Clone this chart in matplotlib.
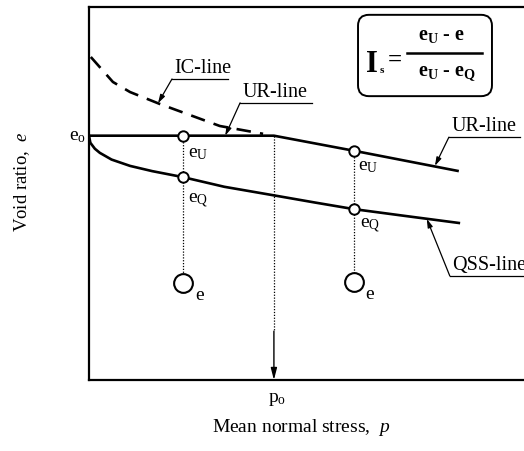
import matplotlib.pyplot as plt
from matplotlib.patches import FancyBboxPatch

plt.rcParams['font.family'] = ['Liberation Serif', 'DejaVu Serif']
plt.rcParams['mathtext.fontset'] = 'custom'
plt.rcParams['mathtext.rm'] = 'Liberation Serif'
plt.rcParams['mathtext.it'] = 'Liberation Serif:italic'
plt.rcParams['mathtext.bf'] = 'Liberation Serif:bold'

# schematic values (arbitrary units): p on x, void ratio e on y
e_o = 0.655
p_o = 4.1

ur_p = [0.0, 4.1, 5.9, 8.2]
ur_e = [0.655, 0.655, 0.614, 0.56]

qss_p = [0.0, 0.03, 0.13, 0.24, 0.5, 0.91, 1.4, 2.08, 3.0, 4.1, 5.0, 5.88, 7.0, 8.2]
qss_e = [0.655, 0.636, 0.620, 0.609, 0.591, 0.574, 0.560, 0.544, 0.518, 0.495, 0.476, 0.458, 0.440, 0.421]

ic_p = [0.04, 0.53, 0.91, 1.57, 2.9, 3.86]
ic_e = [0.866, 0.799, 0.772, 0.740, 0.681, 0.66]

# state points: p, e_U, e_Q, e
state_p = [2.08, 5.88]
state_eU = [0.655, 0.614]
state_eQ = [0.544, 0.458]
state_e = [0.26, 0.263]

W, H = 524, 452
fig = plt.figure(figsize=(W / 100, H / 100), dpi=100)
ax = fig.add_axes([89 / W, 71 / H, 451 / W, 373 / H])
ax.set_xlim(0, 10)
ax.set_ylim(0, 1)
ax.set_xticks([])
ax.set_yticks([])
for s in ax.spines.values():
    s.set_linewidth(1.6)

lw = 1.9
ax.plot(ur_p, ur_e, color='black', lw=lw, solid_capstyle='butt')
ax.plot(qss_p, qss_e, color='black', lw=lw)
ax.plot(ic_p, ic_e, color='black', lw=lw, dashes=(5.5, 3.5))

# dotted drop lines
for p, eu, e in zip(state_p, state_eU, state_e):
    ax.plot([p, p], [eu, e + 0.02], color='black', lw=0.9, ls=(0, (1, 1.3)))
ax.plot([p_o, p_o], [e_o, 0.131], color='black', lw=0.9, ls=(0, (1, 1.3)))
ax.annotate('', xy=(p_o, 0.0), xytext=(p_o, 0.131),
            arrowprops=dict(arrowstyle='-|>,head_length=0.7,head_width=0.18',
                            color='black', lw=1.0, shrinkA=0, shrinkB=0))

# state point circles
ax.plot(state_p, state_eU, 'o', ms=7.5, mfc='white', mec='black', mew=1.4)
ax.plot(state_p, state_eQ, 'o', ms=7.5, mfc='white', mec='black', mew=1.4)
ax.plot(state_p, state_e, 'o', ms=13.5, mfc='white', mec='black', mew=1.5)

fs = 14
ax.text(-0.06, 0.646, r'$\mathrm{e_o}$', fontsize=fs, ha='right', va='baseline')
ax.text(2.20, 0.600, r'$\mathrm{e_U}$', fontsize=fs, va='baseline')
ax.text(2.20, 0.477, r'$\mathrm{e_Q}$', fontsize=fs, va='baseline')
ax.text(2.35, 0.217, 'e', fontsize=fs, va='baseline')
ax.text(5.96, 0.566, r'$\mathrm{e_U}$', fontsize=fs, va='baseline')
ax.text(6.00, 0.410, r'$\mathrm{e_Q}$', fontsize=fs, va='baseline')
ax.text(6.12, 0.220, 'e', fontsize=fs, va='baseline')
ax.text(p_o + 0.08, -0.055, r'$\mathrm{p_o}$', fontsize=fs, ha='center', va='baseline')

# line labels with underline and leader arrow
labels = [
    ('IC-line', 1.84, 3.08, 0.807, (1.53, 0.742)),
    ('UR-line', 3.35, 4.94, 0.743, (3.02, 0.655)),
    ('UR-line', 7.98, 9.56, 0.651, (7.67, 0.574)),
    ('QSS-line', 8.00, 10.5, 0.279, (7.49, 0.432)),
]
for txt, x0, x1, y, tip in labels:
    ax.text(x0 + 0.06, y + 0.006, txt, fontsize=14.5, va='bottom', ha='left')
    ax.plot([x0, x1], [y, y], color='black', lw=0.9, clip_on=False)
    ax.annotate('', xy=tip, xytext=(x0, y),
                arrowprops=dict(arrowstyle='-|>,head_length=0.5,head_width=0.15',
                                color='black', lw=0.9, shrinkA=0, shrinkB=0))

# formula box
asp = (451 / 10) / (373 / 1)
box = FancyBboxPatch((5.965, 0.761), 2.97, 0.218,
                     boxstyle='round,pad=0,rounding_size=0.24',
                     mutation_aspect=asp, fc='white', ec='black', lw=1.4)
ax.add_patch(box)
ax.text(6.15, 0.828, 'I', fontsize=22, fontweight='bold', va='baseline')
ax.text(6.44, 0.826, 's', fontsize=8, fontweight='bold', va='baseline')
ax.text(6.78, 0.861, '=', fontsize=18, fontweight='bold', ha='center', va='center')
ax.plot([7.05, 8.71], [0.877, 0.877], color='black', lw=1.8)
ax.text(7.82, 0.914, r'$\mathbf{e_U}$ - $\mathbf{e}$', fontsize=14.5,
        fontweight='bold', ha='center', va='baseline')
ax.text(7.94, 0.82, r'$\mathbf{e_U}$ - $\mathbf{e_Q}$', fontsize=14.5,
        fontweight='bold', ha='center', va='baseline')

fig.text(301 / W, 1 - 428 / H, r'Mean normal stress,  $\mathit{p}$',
         fontsize=14, ha='center', va='center')
fig.text(22 / W, 1 - 182 / H, r'Void ratio,  $\mathit{e}$',
         fontsize=13.5, ha='center', va='center', rotation=90)

fig.savefig('out.png', dpi=100)
